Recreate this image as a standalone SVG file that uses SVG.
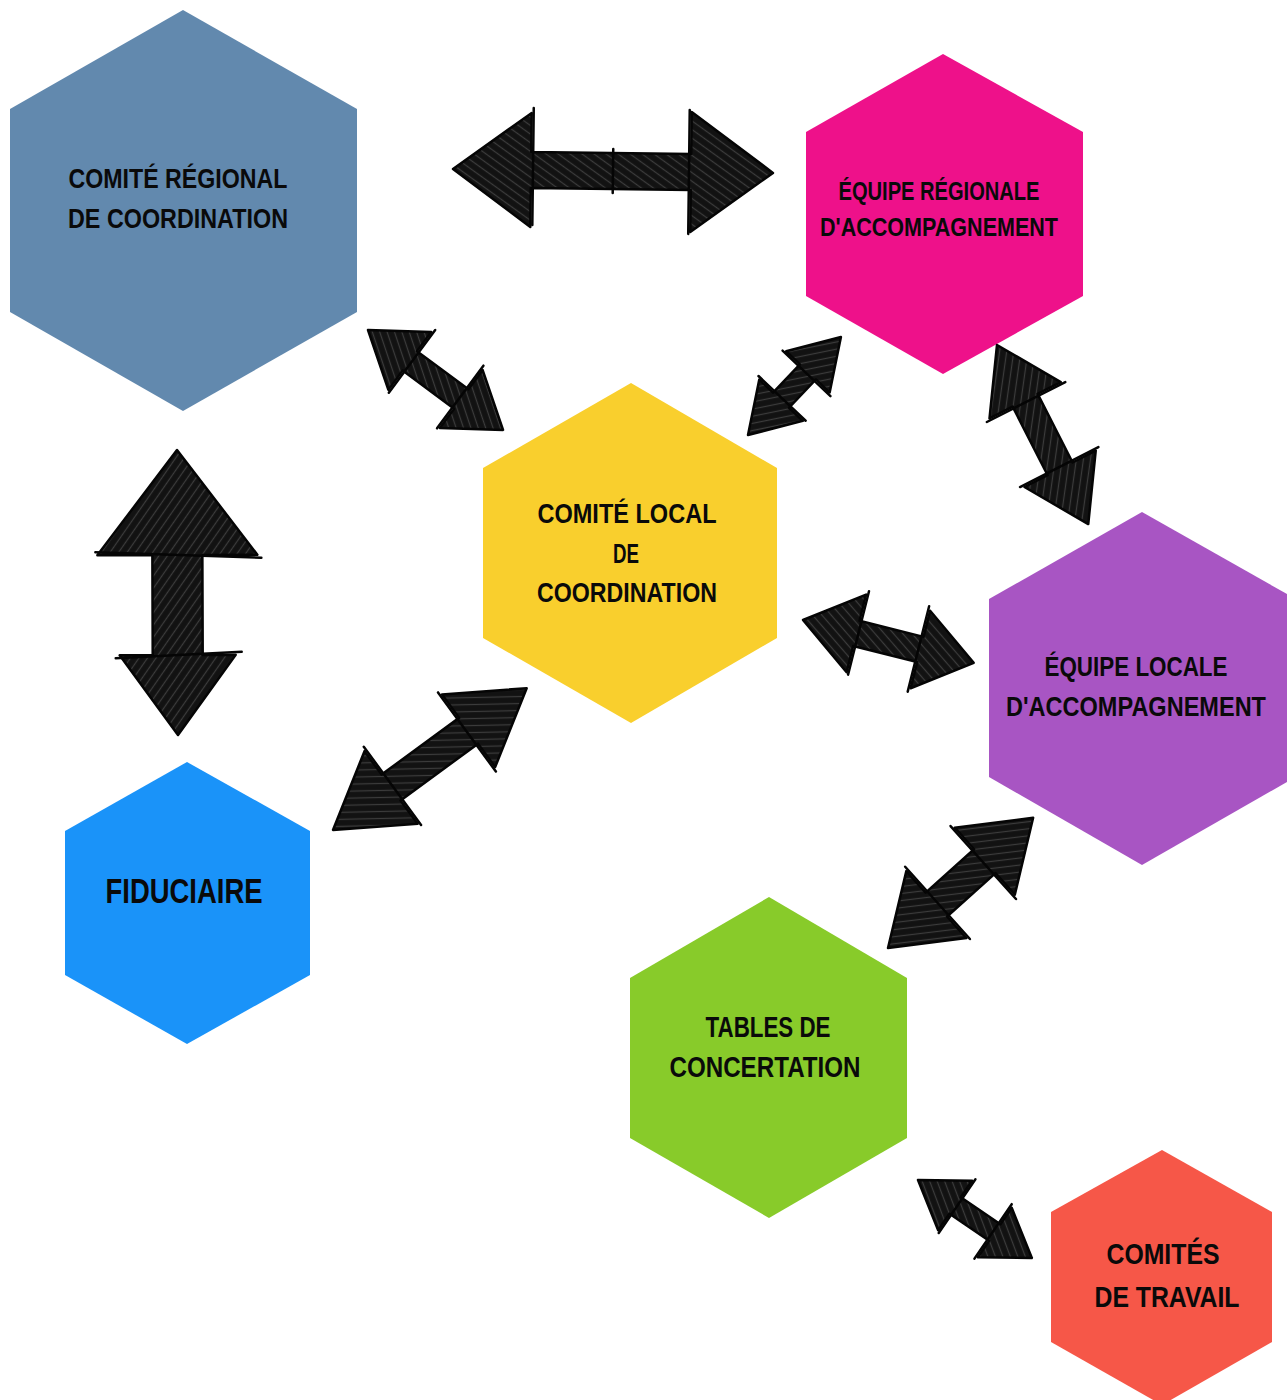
<svg xmlns="http://www.w3.org/2000/svg" width="1287" height="1400" viewBox="0 0 1287 1400">
  <defs>
    <pattern id="hatch" patternUnits="userSpaceOnUse" width="7" height="7" patternTransform="rotate(35)">
      <rect width="7" height="7" fill="#121212"/>
      <line x1="0" y1="3.5" x2="7" y2="3.5" stroke="#3c3c3c" stroke-width="1.2"/>
    </pattern>
  </defs>
  <style>
    .hex { stroke: none; }
    .lbl { font-family: "Liberation Sans", "DejaVu Sans", Arial, sans-serif; font-weight: 700; fill: #0a0a0a; text-anchor: middle; }
    .arrow polygon { fill: url(#hatch); stroke: #050505; stroke-width: 2.5; stroke-linejoin: round; }
    .arrow line { stroke: #050505; stroke-width: 2.5; stroke-linecap: round; }
  </style>
  <rect width="1287" height="1400" fill="#ffffff"/>

  <g id="comite-regional">
    <polygon class="hex" fill="#6289ae" points="183,10 357,109 357,312 183,411 10,312 10,109"/>
    <text class="lbl" font-size="27" x="178" y="188" textLength="219" lengthAdjust="spacingAndGlyphs">COMITÉ RÉGIONAL</text>
    <text class="lbl" font-size="27" x="178" y="228" textLength="220" lengthAdjust="spacingAndGlyphs">DE COORDINATION</text>
  </g>

  <g id="equipe-regionale">
    <polygon class="hex" fill="#ee118a" points="943,54 1083,132 1083,296 943,374 806,296 806,132"/>
    <text class="lbl" font-size="25" x="939" y="200" textLength="201" lengthAdjust="spacingAndGlyphs">ÉQUIPE RÉGIONALE</text>
    <text class="lbl" font-size="25" x="939" y="236" textLength="238" lengthAdjust="spacingAndGlyphs">D'ACCOMPAGNEMENT</text>
  </g>

  <g id="comite-local">
    <polygon class="hex" fill="#f9cf2d" points="631,383 777,468 777,638 631,723 483,638 483,468"/>
    <text class="lbl" font-size="28" x="627" y="523" textLength="179" lengthAdjust="spacingAndGlyphs">COMITÉ LOCAL</text>
    <text class="lbl" font-size="28" x="626" y="563" textLength="26" lengthAdjust="spacingAndGlyphs">DE</text>
    <text class="lbl" font-size="28" x="627" y="602" textLength="180" lengthAdjust="spacingAndGlyphs">COORDINATION</text>
  </g>

  <g id="equipe-locale">
    <polygon class="hex" fill="#a855c3" points="1142,512 1287,594 1287,782 1142,865 989,777 989,599"/>
    <text class="lbl" font-size="27" x="1136" y="676" textLength="183" lengthAdjust="spacingAndGlyphs">ÉQUIPE LOCALE</text>
    <text class="lbl" font-size="27" x="1136" y="716" textLength="260" lengthAdjust="spacingAndGlyphs">D'ACCOMPAGNEMENT</text>
  </g>

  <g id="fiduciaire">
    <polygon class="hex" fill="#1a93f9" points="187,762 310,831 310,975 187,1044 65,975 65,831"/>
    <text class="lbl" font-size="35" x="184" y="903" textLength="157" lengthAdjust="spacingAndGlyphs">FIDUCIAIRE</text>
  </g>

  <g id="tables-concertation">
    <polygon class="hex" fill="#88cb2a" points="769,897 907,978 907,1138 769,1218 630,1138 630,978"/>
    <text class="lbl" font-size="29" x="768" y="1037" textLength="125" lengthAdjust="spacingAndGlyphs">TABLES DE</text>
    <text class="lbl" font-size="29" x="765" y="1077" textLength="191" lengthAdjust="spacingAndGlyphs">CONCERTATION</text>
  </g>

  <g id="comites-travail">
    <polygon class="hex" fill="#f65748" points="1162,1150 1272,1212 1272,1342 1162,1405 1051,1342 1051,1212"/>
    <text class="lbl" font-size="30" x="1163" y="1264" textLength="113" lengthAdjust="spacingAndGlyphs">COMITÉS</text>
    <text class="lbl" font-size="30" x="1167" y="1307" textLength="145" lengthAdjust="spacingAndGlyphs">DE TRAVAIL</text>
  </g>

  <g id="connectors">
    <!-- A1: comité régional <-> équipe régionale -->
    <g class="arrow" transform="translate(453,169) rotate(0.7)">
      <polygon points="0,0 78,-57 78,-18 238,-18 238,-60 320,0 238,60 238,18 78,18 78,57"/>
      <line x1="80" y1="-62" x2="80" y2="55"/>
      <line x1="236" y1="-62" x2="236" y2="62"/>
      <line x1="160" y1="-22" x2="160" y2="22"/>
    </g>
    <!-- A2: comité régional <-> fiduciaire -->
    <g class="arrow" transform="translate(177,450) rotate(89.8)">
      <polygon points="0,0 105,-80 105,-25 205,-25 205,-58 285,0 205,58 205,25 105,25 105,80"/>
      <line x1="108" y1="-84" x2="102" y2="82"/>
      <line x1="202" y1="-64" x2="208" y2="62"/>
    </g>
    <!-- A3: comité régional <-> comité local -->
    <g class="arrow" transform="translate(368,330) rotate(36.5)">
      <polygon points="0,0 52,-36 52,-12 116,-12 116,-36 168,0 116,36 116,12 52,12 52,36"/>
      <line x1="54" y1="-40" x2="54" y2="38"/>
      <line x1="114" y1="-40" x2="114" y2="38"/>
    </g>
    <!-- A4: équipe régionale <-> comité local -->
    <g class="arrow" transform="translate(748,435) rotate(-46.5)">
      <polygon points="0,0 48,-30 48,-11 87,-11 87,-30 135,0 87,30 87,11 48,11 48,30"/>
      <line x1="50" y1="-33" x2="50" y2="32"/>
      <line x1="85" y1="-33" x2="85" y2="33"/>
    </g>
    <!-- A5: équipe régionale <-> équipe locale -->
    <g class="arrow" transform="translate(997,345) rotate(63)">
      <polygon points="0,0 62,-40 62,-14 139,-14 139,-40 201,0 139,40 139,14 62,14 62,40"/>
      <line x1="64" y1="-44" x2="64" y2="44"/>
      <line x1="137" y1="-44" x2="137" y2="44"/>
    </g>
    <!-- A6: comité local <-> équipe locale -->
    <g class="arrow" transform="translate(803,620) rotate(14.1)">
      <polygon points="0,0 55,-40 55,-13 121,-13 121,-40 176,0 121,40 121,13 55,13 55,40"/>
      <line x1="57" y1="-44" x2="57" y2="42"/>
      <line x1="119" y1="-44" x2="119" y2="44"/>
    </g>
    <!-- A7: comité local <-> fiduciaire -->
    <g class="arrow" transform="translate(333,830) rotate(-36.2)">
      <polygon points="0,0 72,-45 72,-16 168,-16 168,-45 240,0 168,45 168,16 72,16 72,45"/>
      <line x1="74" y1="-49" x2="74" y2="48"/>
      <line x1="166" y1="-49" x2="166" y2="49"/>
    </g>
    <!-- A8: équipe locale <-> tables de concertation -->
    <g class="arrow" transform="translate(888,948) rotate(-41.9)">
      <polygon points="0,0 65,-45 65,-16 130,-16 130,-45 195,0 130,45 130,16 65,16 65,45"/>
      <line x1="67" y1="-49" x2="67" y2="48"/>
      <line x1="128" y1="-49" x2="128" y2="49"/>
    </g>
    <!-- A9: tables de concertation <-> comités de travail -->
    <g class="arrow" transform="translate(918,1180) rotate(34.4)">
      <polygon points="0,0 45,-30 45,-10 93,-10 93,-30 138,0 93,30 93,10 45,10 45,30"/>
      <line x1="47" y1="-33" x2="47" y2="32"/>
      <line x1="91" y1="-33" x2="91" y2="33"/>
    </g>
  </g>
</svg>
